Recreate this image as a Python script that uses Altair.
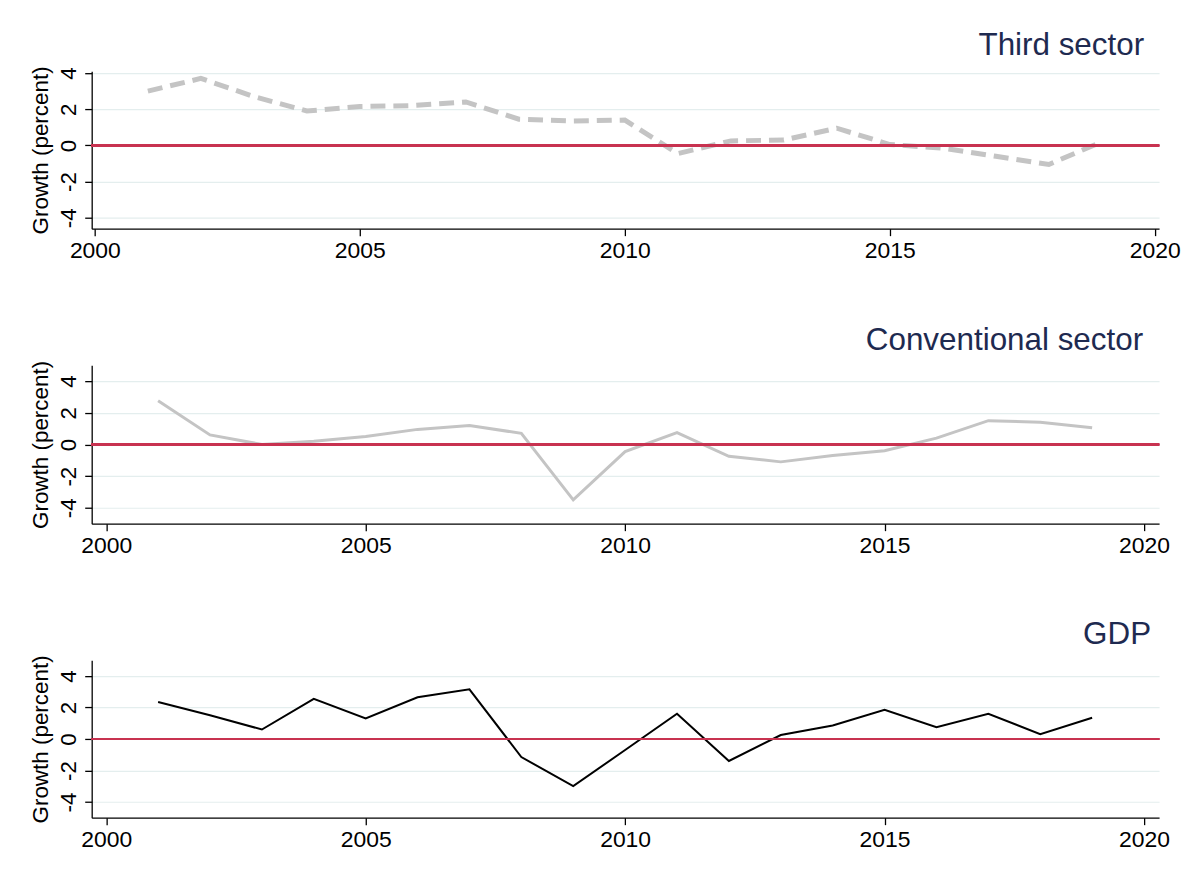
import altair as alt
import pandas as pd

years = list(range(2001, 2020))
third_sector = [3.0, 3.7, 2.7, 1.9, 2.15, 2.2, 2.4, 1.45, 1.35, 1.4, -0.45, 0.25, 0.3, 0.95, 0.05, -0.15, -0.6, -1.05, 0.2]
conventional = [2.75, 0.6, 0.0, 0.2, 0.5, 0.95, 1.2, 0.7, -3.5, -0.45, 0.75, -0.75, -1.1, -0.7, -0.4, 0.4, 1.5, 1.4, 1.05]
gdp = [2.35, 1.5, 0.6, 2.55, 1.3, 2.65, 3.15, -1.15, -3.0, -0.7, 1.6, -1.4, 0.25, 0.85, 1.85, 0.75, 1.6, 0.3, 1.35]

x_ticks = [2000, 2005, 2010, 2015, 2020]
y_ticks = [-4, -2, 0, 2, 4]

FONT = "Liberation Sans"
NAVY = "#1e2a50"
RED = "#c83250"
GRID = "#e4eeee"

df = pd.DataFrame({"year": years, "third": third_sector, "conv": conventional, "gdp": gdp})


def panel(col, title, xdom, ydom, height, line_kwargs, dx):
    x = alt.X("year:Q", scale=alt.Scale(domain=xdom, nice=False, zero=False),
              axis=alt.Axis(values=x_ticks, tickCount=30, format="d", title=None, grid=False,
                            labelFontSize=23, labelFont=FONT, labelColor="black",
                            tickSize=7, tickColor="black", tickWidth=1.3,
                            domainColor="black", domainWidth=1.3, labelPadding=4,
                            labelFlush=False))
    y = alt.Y(f"{col}:Q", scale=alt.Scale(domain=ydom, nice=False, zero=False),
              axis=alt.Axis(values=y_ticks, tickCount=20, title="Growth (percent)", grid=True,
                            gridColor=GRID, gridWidth=1.2,
                            labelExpr="'' + datum.value", labelOverlap=False,
                            labelAngle=270, labelAlign="center", labelBaseline="bottom",
                            labelFontSize=22.5, labelFont=FONT, labelColor="black",
                            tickSize=7, tickColor="black", tickWidth=1.3,
                            domainColor="black", domainWidth=1.3, labelPadding=4,
                            titleFontSize=22.5, titleFont=FONT, titleFontWeight="normal",
                            titleColor="black", titlePadding=5))
    base = alt.Chart(df)
    line = base.mark_line(**line_kwargs).encode(x=x, y=y)
    zero = base.mark_rule(color=RED, strokeWidth=2).encode(y=alt.datum(0))
    return alt.layer(line, zero).properties(
        width=1071, height=height,
        title=alt.TitleParams(title, anchor="end", frame="group", fontSize=31.5, font=FONT,
                              fontWeight="normal", color=NAVY, offset=4, dx=dx),
    )


p1 = panel("third", "Third sector", [1999.94, 2020.08], [-4.6, 4.1], 158,
           dict(color="#c4c4c4", strokeWidth=5, strokeDash=[15, 8], strokeCap="butt"), -15)
p2 = panel("conv", "Conventional sector", [1999.72, 2020.29], [-5, 5], 159,
           dict(color="#c4c4c4", strokeWidth=3), -16)
p3 = panel("gdp", "GDP", [1999.72, 2020.29], [-5, 5], 158,
           dict(color="black", strokeWidth=2), -8)

chart = alt.vconcat(p1, p2, p3, spacing=62).properties(
    padding={"left": 29, "top": 29, "right": 0, "bottom": 0},
    background="white",
).configure_view(strokeWidth=0)

chart.save("out.html", embed_options={"renderer": "svg", "actions": False})
